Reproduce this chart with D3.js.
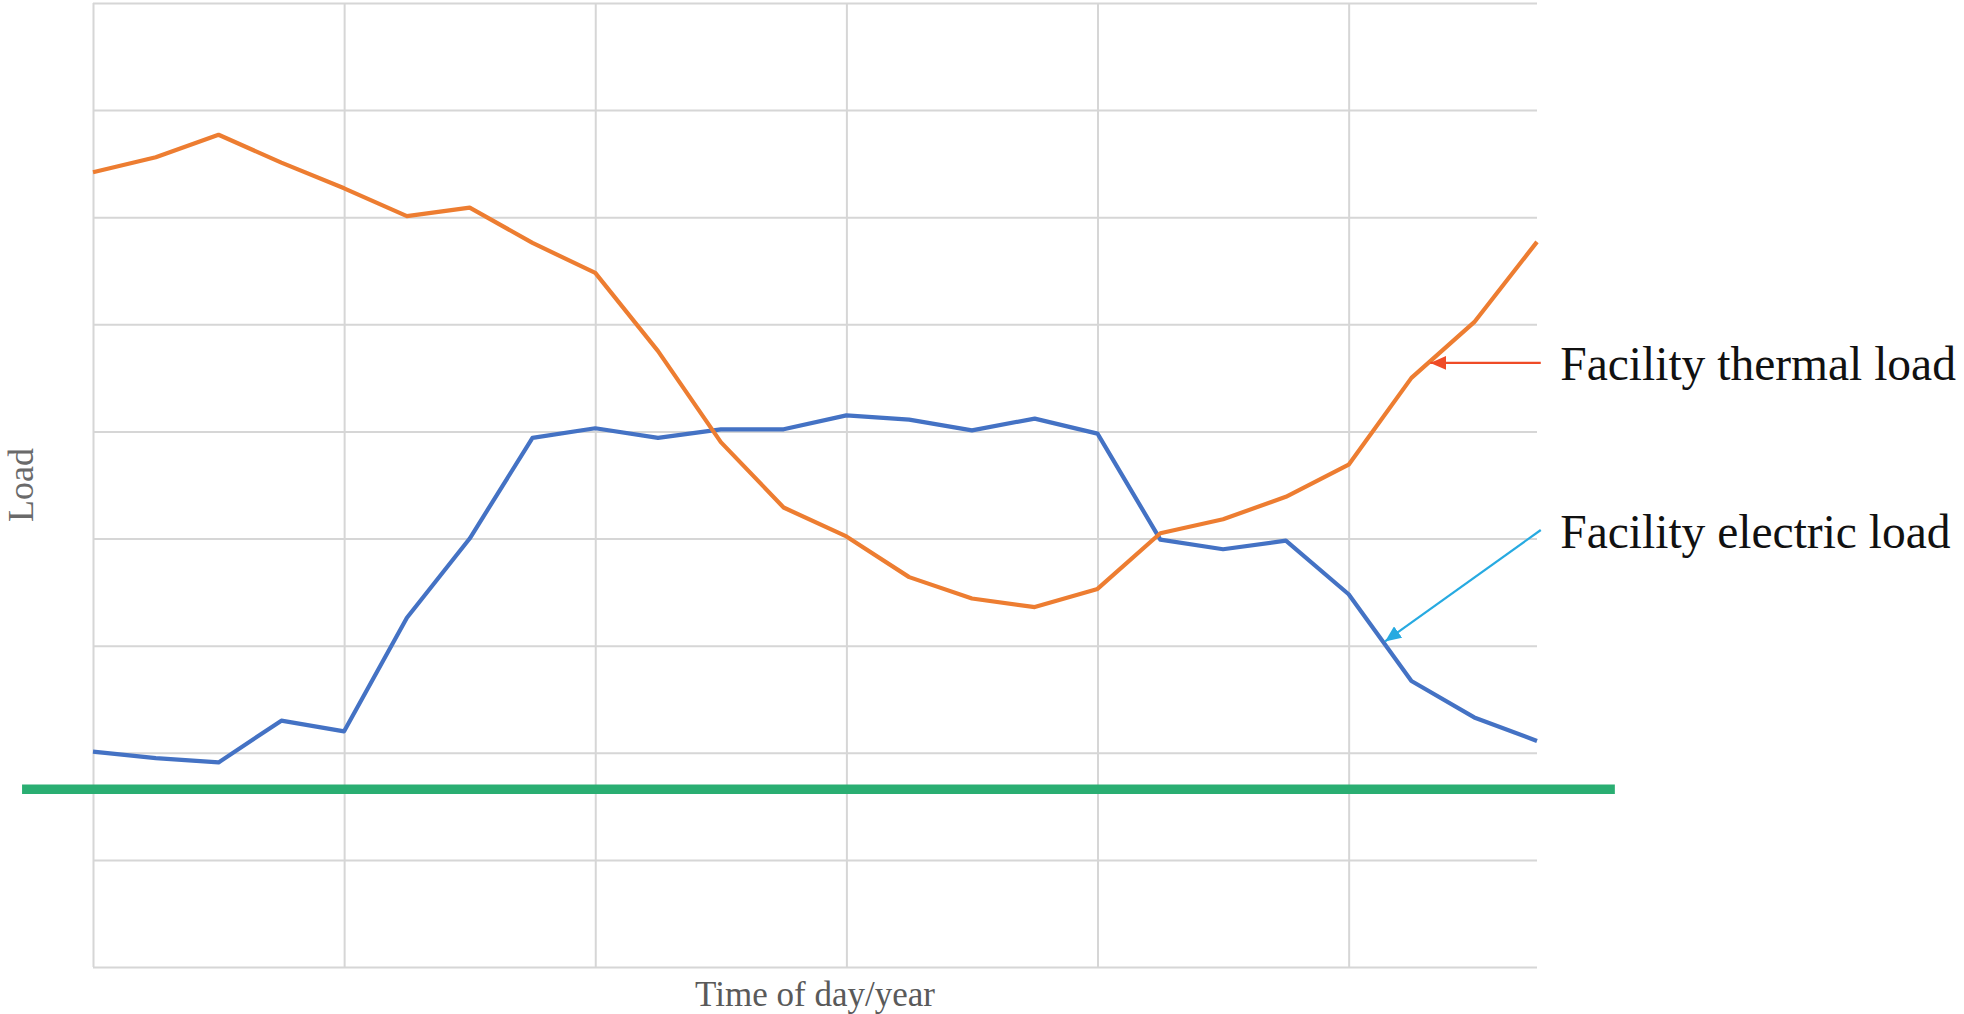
<!DOCTYPE html>
<html>
<head>
<meta charset="utf-8">
<script src="https://cdn.jsdelivr.net/npm/d3@7"></script>
<style>
  html, body { margin: 0; padding: 0; background: #ffffff; }
  svg { display: block; }
  text { font-family: "Liberation Serif", "Times New Roman", serif; }
</style>
</head>
<body>
<svg id="chart" width="1964" height="1014"></svg>
<script>
// Time steps along the horizontal axis (no tick labels are shown)
const steps = d3.range(24);

// Load profiles, in grid units
const thermalLoad = [7.42, 7.56, 7.77, 7.51, 7.27, 7.01, 7.09, 6.76, 6.48, 5.75, 4.90, 4.29,
                     4.02, 3.64, 3.44, 3.36, 3.53, 4.05, 4.18, 4.39, 4.69, 5.50, 6.02, 6.77];
const electricLoad = [2.01, 1.95, 1.91, 2.30, 2.20, 3.26, 4.00, 4.94, 5.03, 4.94, 5.02, 5.02,
                      5.15, 5.11, 5.01, 5.12, 4.98, 3.99, 3.90, 3.98, 3.48, 2.67, 2.33, 2.11];

// Constant base level drawn across the whole chart
const baseLevel = 1.66;
const baseSpan = [-1.13, 24.24];

// Grid divisions
const xGridSteps = [0, 4, 8, 12, 16, 20];
const yGridValues = d3.range(0, 10);

// Labels
const xTitle = "Time of day/year";
const yTitle = "Load";
const thermalLabel = "Facility thermal load";
const electricLabel = "Facility electric load";

const svg = d3.select("#chart");
const plot = { left: 93, right: 1537, top: 3, bottom: 967 };

const x = d3.scaleLinear().domain([0, 23]).range([plot.left, plot.right]);
const y = d3.scaleLinear().domain([0, 9]).range([plot.bottom, plot.top]);

// Horizontal gridlines
svg.append("g")
  .attr("transform", `translate(${plot.left},0)`)
  .call(d3.axisLeft(y).tickValues(yGridValues).tickSize(-(plot.right - plot.left)).tickFormat(""))
  .call(g => g.select(".domain").remove())
  .call(g => g.selectAll("line").attr("stroke", "#d6d6d6").attr("stroke-width", 2));

// Vertical gridlines
svg.append("g")
  .attr("transform", `translate(0,${plot.bottom})`)
  .call(d3.axisBottom(x).tickValues(xGridSteps).tickSize(-(plot.bottom - plot.top)).tickFormat(""))
  .call(g => g.select(".domain").remove())
  .call(g => g.selectAll("line").attr("stroke", "#d6d6d6").attr("stroke-width", 2));

// Axis titles
svg.append("text")
  .attr("x", (plot.left + plot.right) / 2)
  .attr("y", 1006)
  .attr("text-anchor", "middle")
  .attr("font-size", 35)
  .attr("fill", "#5a5a5a")
  .text(xTitle);

svg.append("text")
  .attr("transform", `translate(33,${(plot.top + plot.bottom) / 2}) rotate(-90)`)
  .attr("text-anchor", "middle")
  .attr("font-size", 36)
  .attr("fill", "#6a6a6a")
  .text(yTitle);

// Load curves
const line = d3.line().x((d, i) => x(steps[i])).y(d => y(d));

svg.append("path")
  .datum(electricLoad)
  .attr("fill", "none")
  .attr("stroke", "#4472c4")
  .attr("stroke-width", 4.2)
  .attr("stroke-linejoin", "round")
  .attr("d", line);

svg.append("path")
  .datum(thermalLoad)
  .attr("fill", "none")
  .attr("stroke", "#ed7d31")
  .attr("stroke-width", 4.2)
  .attr("stroke-linejoin", "round")
  .attr("d", line);

// Base level line
svg.append("line")
  .attr("x1", x(baseSpan[0]))
  .attr("x2", x(baseSpan[1]))
  .attr("y1", y(baseLevel))
  .attr("y2", y(baseLevel))
  .attr("stroke", "#2aae72")
  .attr("stroke-width", 9.5);

// Arrow markers: tip at the marker origin, body trailing along the line
const defs = svg.append("defs");
function marker(id, color) {
  defs.append("marker")
    .attr("id", id)
    .attr("viewBox", "0 0 16 14")
    .attr("refX", 0)
    .attr("refY", 7)
    .attr("markerUnits", "userSpaceOnUse")
    .attr("markerWidth", 16)
    .attr("markerHeight", 14)
    .attr("orient", "auto")
    .append("path")
    .attr("d", "M0,7 L16,0 L16,14 Z")
    .attr("fill", color);
}
marker("arrowThermal", "#ef4b26");
marker("arrowElectric", "#27aae1");

// Callouts: [tail index, tail value] -> [tip index, tip value]
const thermalCallout = { tail: [23.06, 5.64], tip: [21.30, 5.64], label: [23.37, 5.48] };
const electricCallout = { tail: [23.06, 4.08], tip: [20.58, 3.04], label: [23.37, 3.91] };

function callout(c, color, markerId, label) {
  svg.append("line")
    .attr("x1", x(c.tip[0]))
    .attr("y1", y(c.tip[1]))
    .attr("x2", x(c.tail[0]))
    .attr("y2", y(c.tail[1]))
    .attr("stroke", color)
    .attr("stroke-width", 2.2)
    .attr("marker-start", `url(#${markerId})`);
  svg.append("text")
    .attr("x", x(c.label[0]))
    .attr("y", y(c.label[1]))
    .attr("font-size", 47.5)
    .attr("fill", "#111111")
    .text(label);
}
callout(thermalCallout, "#ef4b26", "arrowThermal", thermalLabel);
callout(electricCallout, "#27aae1", "arrowElectric", electricLabel);
</script>
</body>
</html>
